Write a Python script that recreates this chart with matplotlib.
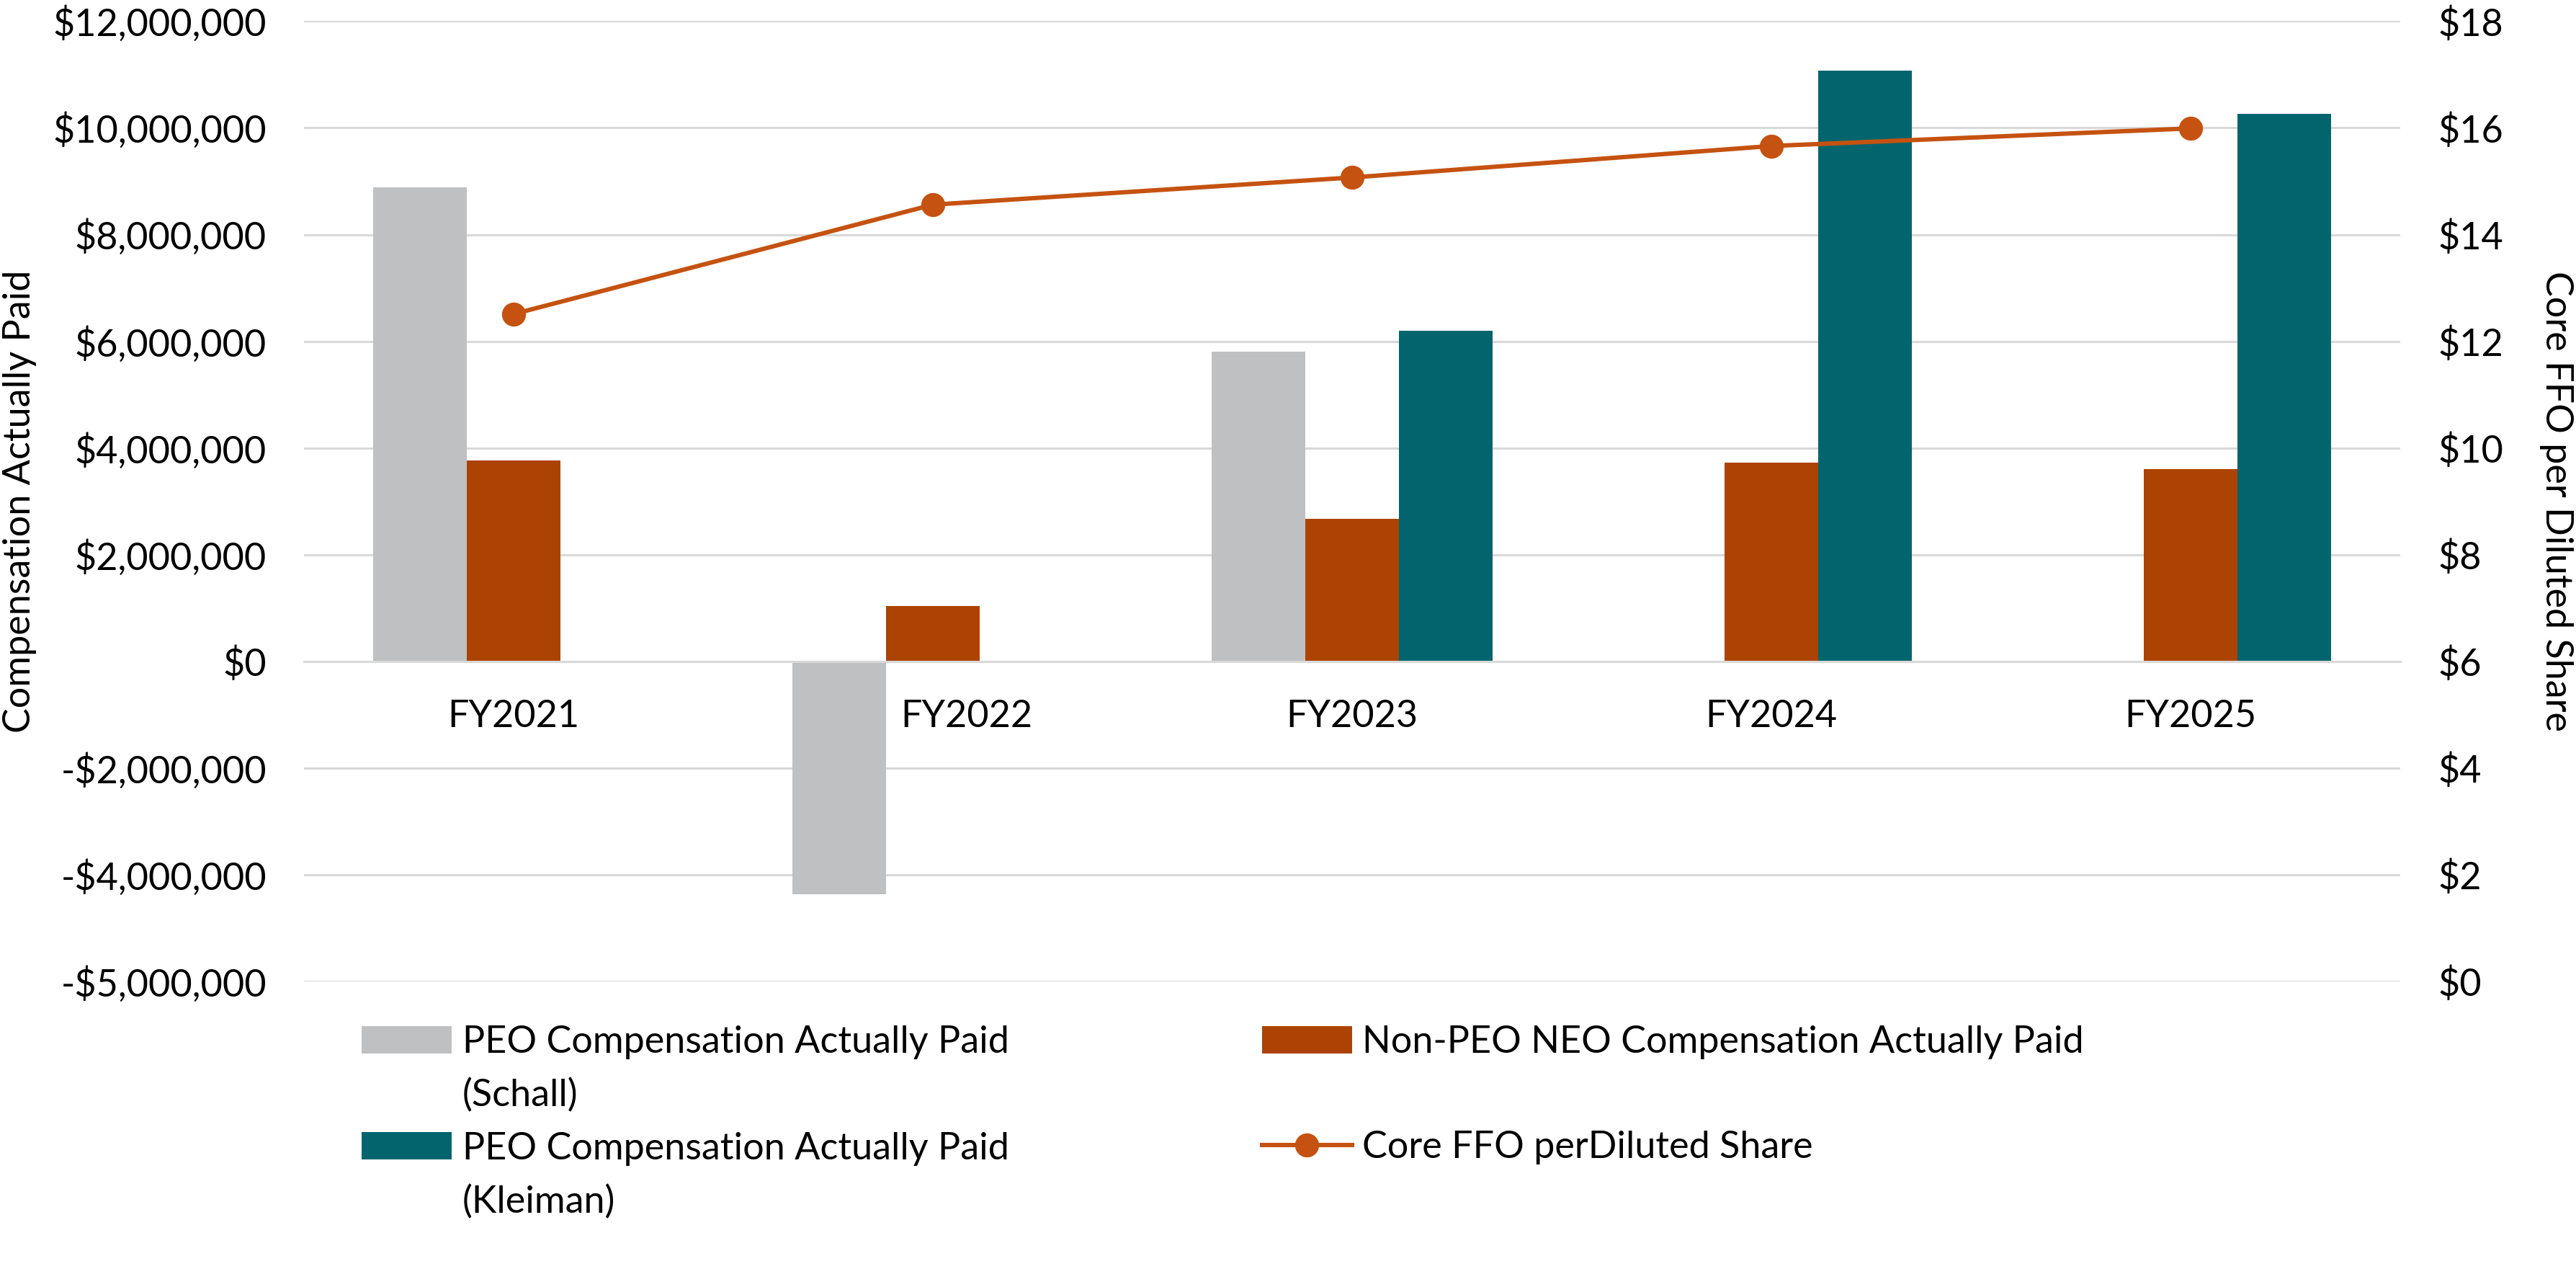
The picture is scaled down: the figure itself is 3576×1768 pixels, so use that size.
import numpy as np
import matplotlib
matplotlib.use('Agg')
import matplotlib.pyplot as plt
from matplotlib.patches import Rectangle
from matplotlib.lines import Line2D
from matplotlib.transforms import ScaledTranslation

plt.rcParams['font.family'] = ['Lato', 'DejaVu Sans']

# data
years = ['FY2021', 'FY2022', 'FY2023', 'FY2024', 'FY2025']
peo_schall = [8.89e6, -4.36e6, 5.81e6, np.nan, np.nan]
non_peo = [3.77e6, 1.04e6, 2.67e6, 3.72e6, 3.61e6]
peo_kleiman = [np.nan, np.nan, 6.20e6, 11.07e6, 10.26e6]
core_ffo = [12.51, 14.56, 15.07, 15.66, 15.99]

left_ticks = [-6e6, -4e6, -2e6, 0, 2e6, 4e6, 6e6, 8e6, 10e6, 12e6]
left_tick_labels = ['-$5,000,000', '-$4,000,000', '-$2,000,000', '$0', '$2,000,000',
                    '$4,000,000', '$6,000,000', '$8,000,000', '$10,000,000', '$12,000,000']
right_ticks = [0, 2, 4, 6, 8, 10, 12, 14, 16, 18]
right_tick_labels = ['$' + str(t) for t in right_ticks]

gray = '#BFC0C2'
orange = '#AD4303'
teal = '#02656D'
line_col = '#C55210'
grid_col = '#D9D9D9'
fs = 18.75

fig = plt.figure(figsize=(17.88, 8.84), dpi=200)
ax = fig.add_axes([0.1180, 0.2296, 0.8138, 0.7538])

x = np.arange(len(years))
w = 0.2235
ax.bar(x - w, peo_schall, w, color=gray)
ax.bar(x, non_peo, w, color=orange)
ax.bar(x + w, peo_kleiman, w, color=teal)

ax.set_xlim(-0.5, 4.5)
ax.set_ylim(-6e6, 12e6)
ax.set_yticks(left_ticks)
ax.set_yticklabels(left_tick_labels)
ax.set_xticks(x)
ax.set_xticklabels(years)
ax.yaxis.grid(True, color=grid_col, linewidth=1.1)
ax.set_axisbelow(True)
for s in ['top', 'right', 'left']:
    ax.spines[s].set_visible(False)
ax.spines['bottom'].set_position(('data', 0))
ax.spines['bottom'].set_color(grid_col)
ax.spines['bottom'].set_linewidth(1.1)
ax.tick_params(axis='y', length=0, pad=18.7, labelsize=fs)
ax.tick_params(axis='x', length=0, pad=19.3, labelsize=fs)
# Excel nudged the FY2022 label right, clear of the negative bar
lbl = ax.get_xticklabels()[1]
lbl.set_transform(lbl.get_transform() + ScaledTranslation(0.235, 0, fig.dpi_scale_trans))
ax.text(-0.1354, 0.5, 'Compensation Actually Paid', transform=ax.transAxes,
        rotation=90, ha='center', va='center', fontsize=fs)

ax2 = ax.twinx()
ax2.plot(x, core_ffo, color=line_col, linewidth=2.2, marker='o', markersize=11)
ax2.set_ylim(0, 18)
ax2.set_yticks(right_ticks)
ax2.set_yticklabels(right_tick_labels)
ax2.tick_params(axis='y', length=0, pad=19, labelsize=fs)
for s in ax2.spines.values():
    s.set_visible(False)
ax2.text(1.0742, 0.5, 'Core FFO per Diluted Share', transform=ax.transAxes,
         rotation=270, ha='center', va='center', fontsize=fs)

# legend: two columns, second lines of the PEO labels as blank-handle rows
blank = Rectangle((0, 0), 1, 1, fc='none', ec='none')
handles = [Rectangle((0, 0), 1, 1, fc=gray), blank,
           Rectangle((0, 0), 1, 1, fc=teal), blank,
           Rectangle((0, 0), 1, 1, fc=orange), blank,
           Line2D([], [], color=line_col, linewidth=2.2, marker='o', markersize=11), blank]
labels = ['PEO Compensation Actually Paid', '(Schall)',
          'PEO Compensation Actually Paid', '(Kleiman)',
          'Non-PEO NEO Compensation Actually Paid', '',
          'Core FFO perDiluted Share', '']
fig.legend(handles, labels, loc='upper left', bbox_to_anchor=(0.1404, 0.1951),
           ncol=2, frameon=False, fontsize=fs, borderpad=0, borderaxespad=0,
           handlelength=2.4, handleheight=0.75, handletextpad=0.28,
           labelspacing=0.50, columnspacing=6.74)

fig.savefig('out.png', dpi=200)
